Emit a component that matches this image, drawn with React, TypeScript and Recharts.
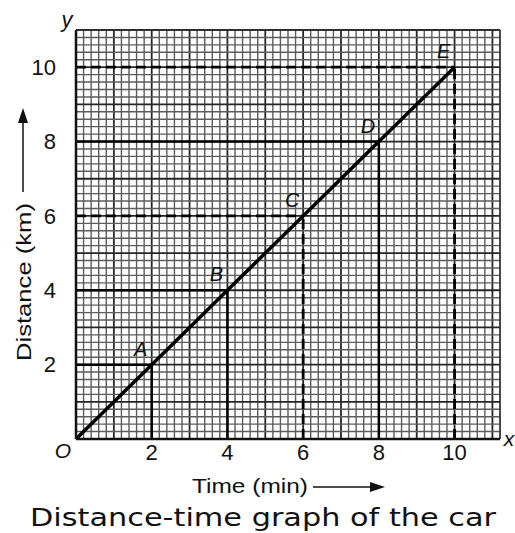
import React from 'react';
import {
    LineChart, Line, XAxis, YAxis, ReferenceLine, LabelList, Label
} from 'recharts';

// values
const timeMin = [0, 2, 4, 6, 8, 10];
const distanceKm = [0, 2, 4, 6, 8, 10];
const pointNames = ['', 'A', 'B', 'C', 'D', 'E'];
const tickValues = [2, 4, 6, 8, 10];

const X_MAX = 11.2;
const Y_MAX = 11;

const data = timeMin.map((t, i) => ({ time: t, distance: distanceKm[i], name: pointNames[i] }));

// graph paper lines every 0.2 unit
const steps = (max: number, step: number) => {
    const out: number[] = [];
    for (let i = 0; i * step <= max + 1e-6; i++) out.push(Math.round(i * step * 100) / 100);
    return out;
};

const FONT = '"Liberation Sans", Arial, sans-serif';

const PointLabel = (props: any) => {
    const { x, y, value } = props;
    if (!value) return null;
    return (
        <text x={x - 11} y={y - 9} fontSize={20} fontStyle="italic" fontFamily={FONT} fill="#111" textAnchor="middle">
            {value}
        </text>
    );
};

const XAxisTitle = () => {
    return (
        <g>
            <text x={192} y={493} fontSize={21} fontFamily={FONT} fill="#111" textLength={116} lengthAdjust="spacingAndGlyphs">
                Time (min)
            </text>
            <line x1={313} y1={487} x2={372} y2={487} stroke="#111" strokeWidth={1.5} />
            <polygon points="385,487 370,482 370,492" fill="#111" />
            <text x={263} y={526} fontSize={25} fontFamily='"DejaVu Sans", sans-serif' fill="#111"
                textAnchor="middle" textLength={466} lengthAdjust="spacingAndGlyphs">
                Distance-time graph of the car
            </text>
            <text x={509} y={446} fontSize={21} fontStyle="italic" fontFamily={FONT} fill="#111" textAnchor="middle">x</text>
            <text x={63} y={458} fontSize={21} fontStyle="italic" fontFamily={FONT} fill="#111" textAnchor="middle">O</text>
        </g>
    );
};

const YAxisTitle = () => {
    return (
        <g>
            <text x={31} y={361} fontSize={21} fontFamily={FONT} fill="#111" transform="rotate(-90 31 361)"
                textLength={158} lengthAdjust="spacingAndGlyphs">
                Distance (km)
            </text>
            <line x1={23} y1={192} x2={23} y2={122} stroke="#111" strokeWidth={1.5} />
            <polygon points="23,108 18,123 28,123" fill="#111" />
            <text x={67} y={27} fontSize={22} fontStyle="italic" fontFamily={FONT} fill="#111" textAnchor="middle">y</text>
        </g>
    );
};

const gridStyle = (v: number) => {
    if (Math.abs(v - Math.round(v)) < 1e-6) return { stroke: '#262626', strokeWidth: 1.8 };
    return { stroke: '#5c5c5c', strokeWidth: 1.4 };
};

const DASH = '10 5';

export default function App() {
    const gridX = steps(X_MAX, 0.2);
    const gridY = steps(Y_MAX, 0.2);

    return (
        <div style={{ position: 'absolute', left: 0, top: 0, background: '#fff' }}>
            <LineChart width={515} height={533} data={data} margin={{ top: 30, right: 15, bottom: 64, left: 16 }}>
                {gridX.map((v) => (
                    <ReferenceLine key={'gx' + v} x={v} {...gridStyle(v)} />
                ))}
                {gridY.map((v) => (
                    <ReferenceLine key={'gy' + v} y={v} {...gridStyle(v)} />
                ))}
                <XAxis type="number" dataKey="time" domain={[0, X_MAX]} ticks={tickValues} allowDataOverflow
                    height={30} tickLine={false} tickSize={0} tickMargin={5} axisLine={{ stroke: '#111', strokeWidth: 2.5 }}
                    tick={{ fontSize: 22, fill: '#111', fontFamily: FONT }}>
                    <Label content={<XAxisTitle />} />
                </XAxis>
                <YAxis type="number" dataKey="distance" domain={[0, Y_MAX]} ticks={tickValues} allowDataOverflow
                    width={60} tickLine={false} tickSize={0} tickMargin={20} axisLine={{ stroke: '#111', strokeWidth: 2.5 }}
                    tick={{ fontSize: 22, fill: '#111', fontFamily: FONT }}>
                    <Label content={<YAxisTitle />} />
                </YAxis>
                <ReferenceLine y={Y_MAX} stroke="#333" strokeWidth={1.5} />
                <ReferenceLine x={X_MAX} stroke="#333" strokeWidth={1.5} />
                <ReferenceLine segment={[{ x: 0, y: 10 }, { x: 10, y: 10 }]} stroke="#000" strokeWidth={2.8} strokeDasharray={DASH} />
                <ReferenceLine segment={[{ x: 10, y: 0 }, { x: 10, y: 10 }]} stroke="#000" strokeWidth={2.8} strokeDasharray={DASH} />
                <ReferenceLine segment={[{ x: 0, y: 6 }, { x: 6, y: 6 }]} stroke="#000" strokeWidth={2.8} strokeDasharray={DASH} />
                <ReferenceLine segment={[{ x: 6, y: 0 }, { x: 6, y: 6 }]} stroke="#000" strokeWidth={2.8} strokeDasharray={DASH} />
                <ReferenceLine segment={[{ x: 0, y: 8 }, { x: 8, y: 8 }]} stroke="#000" strokeWidth={2.5} />
                <ReferenceLine segment={[{ x: 8, y: 0 }, { x: 8, y: 8 }]} stroke="#000" strokeWidth={2.5} />
                <ReferenceLine segment={[{ x: 0, y: 4 }, { x: 4, y: 4 }]} stroke="#000" strokeWidth={2.5} />
                <ReferenceLine segment={[{ x: 4, y: 0 }, { x: 4, y: 4 }]} stroke="#000" strokeWidth={2.5} />
                <ReferenceLine segment={[{ x: 0, y: 2 }, { x: 2, y: 2 }]} stroke="#000" strokeWidth={2.5} />
                <ReferenceLine segment={[{ x: 2, y: 0 }, { x: 2, y: 2 }]} stroke="#000" strokeWidth={2.5} />
                <Line type="linear" dataKey="distance" stroke="#000" strokeWidth={3.5} dot={false} isAnimationActive={false}>
                    <LabelList dataKey="name" content={<PointLabel />} />
                </Line>
            </LineChart>
        </div>
    );
}
